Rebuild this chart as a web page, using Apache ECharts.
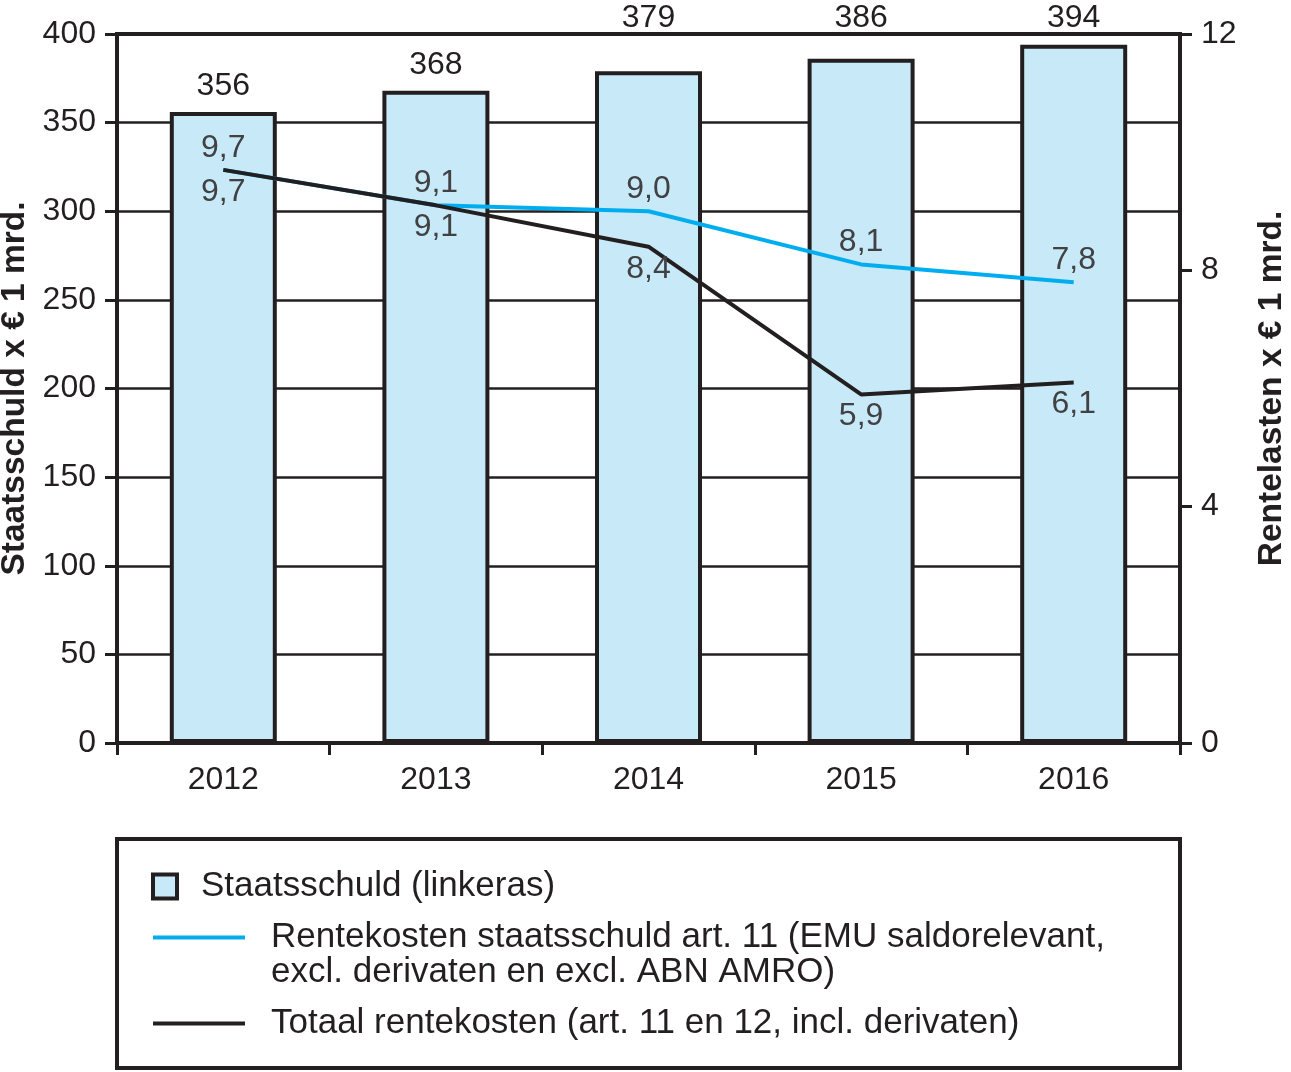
<!DOCTYPE html>
<html><head><meta charset="utf-8">
<script src="https://cdn.jsdelivr.net/npm/echarts@6/dist/echarts.min.js"></script>
<style>html,body{margin:0;padding:0;background:#fff}#c{width:1291px;height:1072px}</style>
</head><body><div id="c"></div>
<script>
const years = ['2012', '2013', '2014', '2015', '2016'];
const staatsschuld = [356, 368, 379, 386, 394];
const renteArt11 = [9.7, 9.1, 9.0, 8.1, 7.8];
const totaalRente = [9.7, 9.1, 8.4, 5.9, 6.1];
const leftAxisMax = 400, leftAxisStep = 50;
const rightAxisMax = 12, rightAxisStep = 4;

const nameBar = 'Staatsschuld (linkeras)';
const nameBlue = 'Rentekosten staatsschuld art. 11 (EMU saldorelevant, excl. derivaten en excl. ABN AMRO)';
const nameBlack = 'Totaal rentekosten (art. 11 en 12, incl. derivaten)';

const INK = '#231f20', FILL = '#c7e9f8', BLUE = '#00aeef', LBL = '#414042';
const FONT = '"Liberation Sans", Arial, sans-serif';
const FS = 32, LFS = 35, NFS = 33.5;

const gridTop = 34, gridBottom = 329, H = 1072;
const plotH = H - gridTop - gridBottom;
const pxPerUnit = plotH / leftAxisMax;
// labels that would collide with the top frame are lifted to a common row above it
const highest = Math.max(...staatsschuld);
const barData = staatsschuld.map(v => {
  const lift = (v > 370) ? (highest - v) * pxPerUnit : 0;
  return { value: v, label: { distance: 10 + lift } };
});
const fmt = p => p.value.toFixed(1).replace('.', ',');

const chart = echarts.init(document.getElementById('c'), null, { renderer: 'canvas' });
chart.setOption({
  animation: false,
  textStyle: { fontFamily: FONT },
  grid: { left: 117, right: 111, top: gridTop, bottom: gridBottom, show: true, borderColor: INK, borderWidth: 4, containLabel: false, outerBoundsMode: 'none' },
  xAxis: {
    type: 'category', data: years, boundaryGap: true,
    axisLine: { lineStyle: { color: INK, width: 4 } },
    axisTick: { show: true, length: 12, lineStyle: { color: INK, width: 3 } },
    axisLabel: { color: INK, fontSize: FS, fontFamily: FONT, margin: 21 },
    splitLine: { show: false }
  },
  yAxis: [{
    type: 'value', min: 0, max: leftAxisMax, interval: leftAxisStep, position: 'left',
    name: 'Staatsschuld x € 1 mrd.', nameLocation: 'middle', nameRotate: 90, nameGap: 81,
    nameTextStyle: { color: INK, fontSize: NFS, fontWeight: 'bold', fontFamily: FONT },
    axisLine: { show: true, lineStyle: { color: INK, width: 4 } },
    axisTick: { show: true, length: 12, lineStyle: { color: INK, width: 3 } },
    axisLabel: { color: INK, fontSize: FS, fontFamily: FONT, margin: 21 },
    splitLine: { show: true, lineStyle: { color: INK, width: 2.5 } }
  }, {
    type: 'value', min: 0, max: rightAxisMax, interval: rightAxisStep, position: 'right',
    name: 'Rentelasten x € 1 mrd.', nameLocation: 'middle', nameRotate: 90, nameGap: 75,
    nameTextStyle: { color: INK, fontSize: NFS, fontWeight: 'bold', fontFamily: FONT },
    axisLine: { show: true, lineStyle: { color: INK, width: 4 } },
    axisTick: { show: true, length: 12, lineStyle: { color: INK, width: 3 } },
    axisLabel: { color: INK, fontSize: FS, fontFamily: FONT, margin: 21 },
    splitLine: { show: false }
  }],
  legend: [{
    left: 151, top: 869, padding: 0, orient: 'vertical', selectedMode: false,
    itemWidth: 24, itemHeight: 24,
    textStyle: { color: INK, fontSize: LFS, fontFamily: FONT, lineHeight: 35, padding: [0, 0, 0, 19] },
    data: [{ name: nameBar, icon: 'rect', itemStyle: { color: FILL, borderColor: INK, borderWidth: 4 } }]
  }, {
    left: 153, top: 885, padding: 0, orient: 'vertical', selectedMode: false,
    itemWidth: 92, itemHeight: 4,
    formatter: () => '\u00a0\nRentekosten staatsschuld art. 11 (EMU saldorelevant,\nexcl. derivaten en excl. ABN AMRO)',
    textStyle: { color: INK, fontSize: LFS, fontFamily: FONT, lineHeight: 35, padding: [0, 0, 0, 21] },
    data: [{ name: nameBlue, icon: 'rect', itemStyle: { color: BLUE, borderWidth: 0 } }]
  }, {
    left: 153, top: 1006, padding: 0, orient: 'vertical', selectedMode: false,
    itemWidth: 92, itemHeight: 4,
    textStyle: { color: INK, fontSize: LFS, fontFamily: FONT, lineHeight: 35, padding: [0, 0, 0, 21] },
    data: [{ name: nameBlack, icon: 'rect', itemStyle: { color: INK, borderWidth: 0 } }]
  }],
  graphic: [{
    type: 'rect',
    shape: { x: 117, y: 839, width: 1063, height: 229 },
    style: { fill: 'none', stroke: INK, lineWidth: 4 }, z: 0
  }],
  series: [{
    name: nameBar, type: 'bar', yAxisIndex: 0, data: barData, barWidth: 107,
    itemStyle: { color: FILL, borderColor: INK, borderWidth: 4 },
    label: { show: true, position: 'top', color: INK, fontSize: FS, fontFamily: FONT },
    z: 2
  }, {
    name: nameBlue, type: 'line', yAxisIndex: 1, data: renteArt11,
    symbol: 'circle', symbolSize: 0, showSymbol: true,
    lineStyle: { color: BLUE, width: 4 }, itemStyle: { color: BLUE },
    label: { show: true, position: 'top', distance: 6, color: LBL, fontSize: FS, fontFamily: FONT, formatter: fmt },
    z: 3
  }, {
    name: nameBlack, type: 'line', yAxisIndex: 1, data: totaalRente,
    symbol: 'circle', symbolSize: 0, showSymbol: true,
    lineStyle: { color: INK, width: 4 }, itemStyle: { color: INK },
    label: { show: true, position: 'bottom', distance: 6, color: LBL, fontSize: FS, fontFamily: FONT, formatter: fmt },
    z: 4
  }]
});
</script></body></html>
